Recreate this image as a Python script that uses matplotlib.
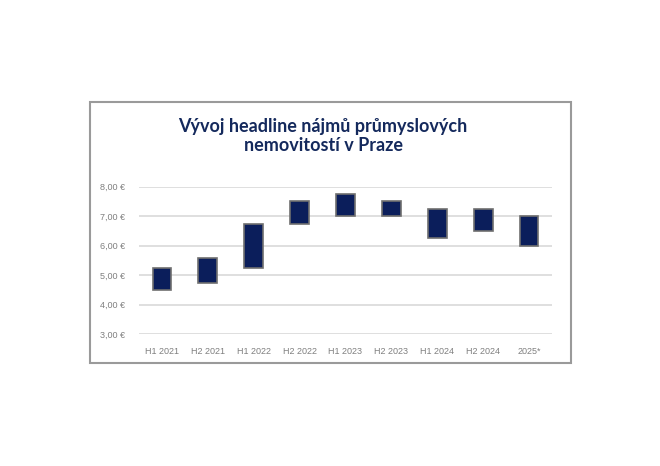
import numpy as np
import matplotlib.pyplot as plt
from matplotlib.patches import Rectangle

# headline rent ranges (EUR / m2 / month)
periods = ['H1 2021', 'H2 2021', 'H1 2022', 'H2 2022', 'H1 2023',
           'H2 2023', 'H1 2024', 'H2 2024', '2025*']
rent_low = [4.50, 4.75, 5.25, 6.75, 7.00, 7.00, 6.25, 6.50, 6.00]
rent_high = [5.25, 5.60, 6.75, 7.50, 7.75, 7.50, 7.25, 7.25, 7.00]
yticks = [3, 4, 5, 6, 7, 8]

navy = '#0b1e5b'

fig = plt.figure(figsize=(6.6, 4.66), dpi=100)
fig.patch.set_facecolor('white')

# outer frame around the chart
fig.patches.append(Rectangle((90 / 660, 1 - 363 / 466), 481 / 660, 261 / 466,
                             transform=fig.transFigure, fill=False,
                             edgecolor='#9a9a9a', linewidth=1.5))

ax = fig.add_axes([139 / 660, 1 - 334.3 / 466, 413 / 660, 147.6 / 466])

x = np.arange(len(periods))
heights = np.array(rent_high) - np.array(rent_low)
ax.bar(x, heights, bottom=rent_low, width=0.41, color=navy,
       edgecolor='#6f6f6f', linewidth=1.2, zorder=3)

ax.set_ylim(3, 8)
ax.set_xlim(-0.5, len(periods) - 0.5)
ax.set_yticks(yticks)
ax.set_yticklabels([f'{v:.2f} €'.replace('.', ',') for v in yticks])
ax.set_xticks(x)
ax.set_xticklabels(periods)
ax.tick_params(length=0, labelsize=6.5, labelcolor='#7f7f7f')
ax.tick_params(axis='y', pad=10)
ax.tick_params(axis='x', pad=9)
for lbl in ax.get_xticklabels() + ax.get_yticklabels():
    lbl.set_fontfamily('Liberation Sans')

ax.grid(axis='y', color='#d9d9d9', linewidth=1.2, zorder=0)
for s in ax.spines.values():
    s.set_visible(False)

fig.text(323 / 660, 1 - 136 / 466,
         'Vývoj headline nájmů průmyslových\nnemovitostí v Praze',
         ha='center', va='center', fontsize=13, fontweight='bold',
         color='#14295c', family='Lato', linespacing=1.15)

plt.savefig('out.png', dpi=100)
